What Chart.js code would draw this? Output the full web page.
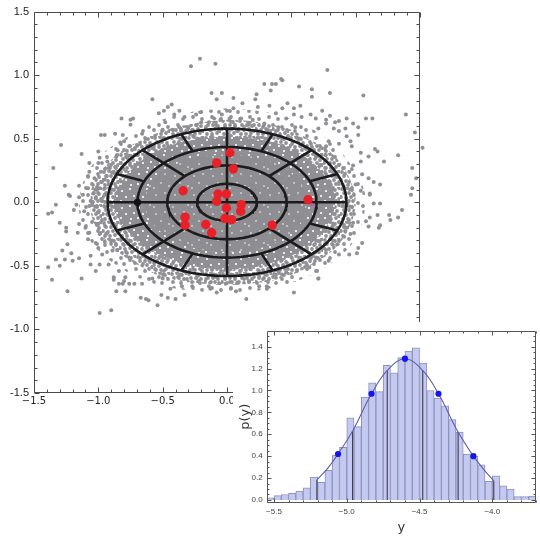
<!DOCTYPE html>
<html><head><meta charset="utf-8">
<script src="https://cdn.jsdelivr.net/npm/chart.js@4.4.1/dist/chart.umd.min.js"></script>
<style>
html,body{margin:0;padding:0;background:#fff;}
#wrap{position:relative;width:540px;height:538px;overflow:hidden;background:#fff;}
#main{position:absolute;left:0;top:0;}
#inset{position:absolute;left:233px;top:322px;background:#fff;}
</style></head><body>
<div id="wrap"><canvas id="main" width="540" height="538"></canvas><canvas id="inset" width="307" height="216"></canvas></div>
<script>
// ---------------- main scatter data ----------------
const mainXTicks = [-1.5,-1.0,-0.5,0.0,0.5,1.0,1.5];
const mainXLabels = ['\u22121.5','\u22121.0','\u22120.5','0.0','0.5','1.0','1.5'];
const mainYTicks = [-1.5,-1.0,-0.5,0.0,0.5,1.0,1.5];
const mainYLabels = ['-1.5','-1.0','-0.5','0.0','0.5','1.0','1.5'];

// dense parts of the grey cloud (outlines)
const outerHaloPts = [[0,0.74],[0.3,0.71],[0.58,0.62],[0.8,0.48],[0.96,0.3],[1.07,0.08],[1.06,-0.12],[0.99,-0.3],[0.85,-0.45],[0.62,-0.59],[0.32,-0.68],[0,-0.71],[-0.32,-0.69],[-0.6,-0.63],[-0.82,-0.52],[-1.0,-0.38],[-1.12,-0.2],[-1.15,0.0],[-1.1,0.2],[-0.98,0.37],[-0.8,0.5],[-0.56,0.63],[-0.28,0.71],[0,0.74]];
const haloPts = [[0,0.65],[0.18,0.64],[0.35,0.61],[0.5,0.57],[0.63,0.5],[0.74,0.44],[0.84,0.36],[0.92,0.25],[0.98,0.12],[1.0,0.0],[0.98,-0.12],[0.93,-0.24],[0.86,-0.34],[0.76,-0.43],[0.63,-0.51],[0.5,-0.57],[0.34,-0.62],[0.18,-0.64],[0,-0.65],[-0.18,-0.64],[-0.36,-0.62],[-0.52,-0.58],[-0.66,-0.51],[-0.78,-0.44],[-0.9,-0.35],[-0.99,-0.24],[-1.05,-0.12],[-1.06,0.0],[-1.05,0.12],[-1.0,0.22],[-0.93,0.3],[-0.85,0.38],[-0.74,0.45],[-0.62,0.51],[-0.5,0.56],[-0.36,0.6],[-0.2,0.63],[0,0.65]];
const midPts = [[0,0.52],[0.4,0.46],[0.7,0.28],[0.84,0],[0.7,-0.28],[0.4,-0.46],[0,-0.53],[-0.4,-0.46],[-0.72,-0.28],[-0.88,0],[-0.72,0.28],[-0.4,0.46],[0,0.52]];
const corePts = [[0,0.38],[0.32,0.33],[0.55,0.18],[0.62,0],[0.55,-0.19],[0.32,-0.34],[0,-0.39],[-0.32,-0.34],[-0.56,-0.19],[-0.64,0],[-0.56,0.19],[-0.32,0.33],[0,0.38]];

// sparse grey points
const grayPts = [
[-0.82,0.66],[-0.75,0.65],[-0.75,0.61],[-0.98,0.53],[-0.95,0.53],[-0.87,0.54],[-0.81,0.53],[-0.80,0.48],[-0.83,0.47],[-1.29,0.45],[-1.13,0.38],[-1.0,0.40],[-0.85,0.41],[-0.86,0.36],[-0.76,0.44],[-0.70,0.45],[-0.99,0.35],[-1.07,0.31],[-1.0,0.31],[-0.93,0.32],[-0.92,0.27],[-1.35,0.27],[-0.98,0.24],[-1.07,0.24],[-0.88,0.24],[-1.08,0.20],[-1.03,0.19],[-0.95,0.18],[-1.26,0.13],[-1.15,0.13],[-1.08,0.11],[-0.99,0.11],[-0.92,0.14],[-1.23,0.06],[-1.12,0.06],[-1.04,0.07],[-1.15,0.04],[-1.02,0.03],[-0.95,0.06],[-1.06,0.01],[-0.97,0.01],[-1.33,-0.02],[-1.17,-0.02],[-1.07,-0.03],[-1.39,-0.09],[-1.36,-0.08],[-1.19,-0.06],[-1.11,-0.07],[-1.0,-0.08],[-1.30,-0.16],[-1.25,-0.20],[-1.15,-0.17],[-1.10,-0.20],[-1.0,-0.17],[-1.25,-0.23],[-1.16,-0.24],[-1.07,-0.24],[-0.99,-0.25],[-0.94,-0.25],[-1.08,-0.29],[-1.02,-0.32],[-0.95,-0.31],[-1.24,-0.33],[-1.0,-0.36],[-1.28,-0.38],[-1.21,-0.40],[-1.15,-0.44],[-1.06,-0.42],[-0.97,-0.41],[-0.89,-0.38],[-1.33,-0.45],[-1.26,-0.45],[-1.20,-0.46],[-1.06,-0.49],[-0.99,-0.49],[-1.39,-0.51],[-1.30,-0.50],[-0.92,-0.49],[-0.84,-0.54],[-1.02,-0.54],[-0.88,-0.59],[-1.36,-0.61],[-1.13,-0.60],[-0.80,-0.62],[-0.84,-0.64],[-0.76,-0.64],[-1.24,-0.70],[-0.86,-0.70],[-0.79,-0.70],[-0.99,-0.87],[-1.22,0.05],
[-0.28,1.07],[-0.21,1.13],[-0.09,1.09],[-0.58,0.81],[-0.73,0.66],[-0.66,0.54],[-0.53,0.70],[-0.49,0.72],[-0.46,0.75],[-0.43,0.77],[-0.37,0.72],[-0.41,0.69],[-0.48,0.63],[-0.33,0.67],[-0.24,0.69],[-0.20,0.71],[-0.12,0.86],[-0.04,0.86],[-0.08,0.81],[-0.20,0.63],[-0.10,0.66],[-0.04,0.69],[0.0,0.72],[0.05,0.82],[0.05,0.74],[0.12,0.78],[0.22,0.81],[0.23,0.85],[0.24,0.75],[0.29,0.93],[0.35,0.93],[0.38,0.93],[0.34,0.88],[0.42,0.97],[0.43,0.96],[0.33,0.76],[0.43,0.74],[0.38,0.70],[0.47,0.78],[0.56,0.91],[0.66,0.89],[0.66,0.83],[0.57,0.76],[0.52,0.74],[0.74,0.72],[0.78,1.04],[0.52,0.69],[0.58,0.67],[0.65,0.69],[0.69,0.66],[0.46,0.66],[0.29,0.62],[0.20,0.65],[0.11,0.66],[0.02,0.66],[-0.05,0.65],[-0.14,0.63],[-0.30,0.59],[-0.37,0.59],[-0.42,0.57],[-0.50,0.57],[0.17,0.61],[0.40,0.59],[0.53,0.59],[0.77,0.62],[0.71,0.58],
[0.80,0.86],[1.06,0.84],[0.80,0.68],[0.77,0.65],[0.84,0.63],[0.87,0.64],[0.93,0.66],[0.98,0.62],[1.02,0.59],[1.02,0.53],[1.08,0.66],[1.13,0.66],[1.39,0.69],[1.46,0.55],[1.52,0.43],[0.83,0.58],[0.87,0.56],[0.92,0.58],[0.93,0.52],[0.96,0.48],[0.87,0.46],[0.79,0.48],[0.77,0.44],[0.97,0.44],[1.04,0.39],[1.15,0.42],[1.17,0.40],[1.10,0.36],[1.22,0.32],[1.33,0.37],[1.04,0.32],[0.98,0.29],[0.95,0.24],[1.05,0.22],[1.10,0.19],[1.14,0.16],[1.19,0.14],[1.0,0.14],[1.04,0.09],[1.11,0.07],[1.19,-0.01],[1.14,-0.01],[1.11,0.06],[1.44,0.27],[1.44,0.11],[1.47,0.19],[1.43,0.06],[1.36,-0.06],[1.33,-0.12],[1.26,-0.10],[1.27,-0.14],[1.17,-0.10],[1.11,-0.12],[1.08,-0.15],[1.10,-0.19],[1.18,-0.20],[1.19,-0.18],[0.98,-0.16],[0.93,-0.20],[0.96,-0.25],[0.91,-0.27],[1.05,-0.32],[1.02,-0.36],[1.01,-0.40],[0.95,-0.41],[0.87,-0.41],[0.79,-0.46],[0.86,-0.33],[0.71,-0.60],
[-0.88,-0.61],[-0.81,-0.64],[-0.79,-0.59],[-0.72,-0.64],[-0.67,-0.75],[-0.63,-0.76],[-0.61,-0.77],[-0.66,-0.64],[-0.58,-0.60],[-0.50,-0.60],[-0.51,-0.73],[-0.46,-0.75],[-0.40,-0.76],[-0.44,-0.68],[-0.35,-0.66],[-0.33,-0.73],[-0.54,-0.81],[-0.90,-0.85],[-0.27,-0.66],[-0.22,-0.62],[-0.14,-0.66],[-0.13,-0.68],[-0.08,-0.71],[-0.01,-0.64],[0.03,-0.68],[0.07,-0.70],[0.15,-0.76],[0.08,-0.63],[0.17,-0.62],[0.25,-0.66],[0.31,-0.66],[0.31,-0.68],[0.52,-0.71],[0.71,-0.60],[0.70,-0.54],[0.64,-0.51],[0.46,-0.55],[0.38,-0.57],[0.25,-0.58]
];

// target rings (semi-axes) and spokes
const ringA = [0.232,0.464,0.696,0.928];
const ringB = [0.145,0.29,0.435,0.58];
const spokeAngles = [0,90,180,270,45,135,225,315,22.5,67.5,112.5,157.5,202.5,247.5,292.5,337.5];
const spokeInner  = [-1,-1,-1,-1,1,1,1,1,2,2,2,2,2,2,2,2]; // -1 = centre
const blackDot = [[-0.696,0.0]];
const magentaDot = [[0.661,-0.018]];

const redX = [0.023,-0.08,0.049,-0.341,-0.07,-0.005,-0.08,-0.005,0.111,0.106,-0.016,0.036,-0.326,-0.326,-0.165,-0.119,0.351,0.63];
const redY = [0.39,0.31,0.263,0.091,0.065,0.065,0.008,-0.045,-0.018,-0.07,-0.128,-0.136,-0.117,-0.18,-0.175,-0.24,-0.18,0.02];

// ---------------- inset histogram data ----------------
const binCenters = [-5.525,-5.475,-5.425,-5.375,-5.325,-5.275,-5.225,-5.175,-5.125,-5.075,-5.025,-4.975,-4.925,-4.875,-4.825,-4.775,-4.725,-4.675,-4.625,-4.575,-4.525,-4.475,-4.425,-4.375,-4.325,-4.275,-4.225,-4.175,-4.125,-4.075,-4.025,-3.975,-3.925,-3.875,-3.825,-3.775,-3.725];
const histVals = [0.02,0.04,0.05,0.06,0.08,0.11,0.21,0.16,0.27,0.41,0.48,0.75,0.67,0.94,1.07,0.99,1.23,1.16,1.30,1.36,1.39,1.25,1.00,0.93,0.86,0.735,0.62,0.42,0.40,0.32,0.17,0.22,0.13,0.10,0.03,0.03,0.035];
const curveX = [-5.21,-5.13,-5.06,-4.96,-4.83,-4.72,-4.60,-4.48,-4.37,-4.235,-4.13,-4.06,-3.99];
const curveY = [0.175,0.29,0.42,0.63,0.97,1.185,1.29,1.185,0.97,0.62,0.40,0.28,0.175];
const dotX = [-5.06,-4.83,-4.60,-4.37,-4.13];
const dotY = [0.42,0.97,1.29,0.97,0.40];
const vlineX = [-5.205,-4.96,-4.722,-4.478,-4.235,-3.99];
const vlineTop = [0.176,0.63,1.185,1.185,0.62,0.176];
const insetXTicks = [-5.5,-5.0,-4.5,-4.0];
const insetXLabels = ['\u22125.5','\u22125.0','\u22124.5','\u22124.0'];
const insetYTicks = [0,0.2,0.4,0.6,0.8,1.0,1.2,1.4];
const insetYLabels = ['0.0','0.2','0.4','0.6','0.8','1.0','1.2','1.4'];

// ---------------- speckle textures for the dense cloud (styling only) ----------------
function makePattern(size, base, dotColor, dots, r) {
  const c = document.createElement('canvas'); c.width = size; c.height = size;
  const g = c.getContext('2d');
  if (base) { g.fillStyle = base; g.fillRect(0, 0, size, size); }
  g.fillStyle = dotColor;
  dots.forEach(d => { g.beginPath(); g.arc(d[0], d[1], r, 0, Math.PI * 2); g.fill(); });
  return document.getElementById('main').getContext('2d').createPattern(c, 'repeat');
}
const sparseTex = makePattern(19, null, '#8f8f94', [[3,3],[12,5],[7,11],[16,13],[2,16],[10,17]], 1.9);
const haloTex = makePattern(17, null, '#8f8f94',
  [[2,2],[7,1],[12,3],[16,1],[4,6],[9,6],[14,7],[1,10],[6,11],[11,10],[16,12],[3,15],[8,15],[13,14],[10,2.5]], 1.9);
const midTex = makePattern(17, '#8f8f94', '#ffffff',
  [[3,4],[11,2],[15,9],[7,10],[2,14],[12,15]], 1.1);
const coreTex = makePattern(19, '#8d8d92', '#ffffff',
  [[4,5],[13,3],[9,12],[17,15],[2,17]], 0.8);

// ---------------- frame + inward ticks plugin ----------------
const frameTicks = {
  id: 'frameTicks',
  afterDatasetsDraw(chart, args, o) {
    const {ctx, chartArea: a, scales: {x, y}} = chart;
    ctx.save();
    ctx.strokeStyle = o.color; ctx.lineWidth = 1;
    const L = Math.round(a.left) + 0.5, R = Math.round(a.right) - 0.5;
    const T = Math.round(a.top) + 0.5, B = Math.round(a.bottom) - 0.5;
    ctx.beginPath();
    ctx.rect(L, T, R - L, B - T);
    const isMaj = (v, m) => Math.abs(v / m - Math.round(v / m)) < 1e-6;
    const nx = Math.round((o.xTo - o.xFrom) / o.xMinor);
    for (let i = 0; i <= nx; i++) {
      const v = o.xFrom + i * o.xMinor;
      const p = Math.round(x.getPixelForValue(v)) + 0.5;
      const len = isMaj(v, o.xMajor) ? o.major : o.minor;
      ctx.moveTo(p, B); ctx.lineTo(p, B - len);
      ctx.moveTo(p, T); ctx.lineTo(p, T + len);
    }
    const ny = Math.round((o.yTo - o.yFrom) / o.yMinor);
    for (let i = 0; i <= ny; i++) {
      const v = o.yFrom + i * o.yMinor;
      const p = Math.round(y.getPixelForValue(v)) + 0.5;
      const len = isMaj(v, o.yMajor) ? o.major : o.minor;
      ctx.moveTo(L, p); ctx.lineTo(L + len, p);
      ctx.moveTo(R, p); ctx.lineTo(R - len, p);
    }
    ctx.stroke();
    ctx.restore();
  }
};

// ---------------- main chart ----------------
const ringDatasets = ringA.map((a, i) => {
  const pts = [];
  for (let d = 0; d <= 360; d += 3) {
    const t = d * Math.PI / 180;
    pts.push({x: a * Math.cos(t), y: ringB[i] * Math.sin(t)});
  }
  return {type: 'line', data: pts, borderColor: '#1c1c1c', borderWidth: 2.6, pointRadius: 0, fill: false, tension: 0, order: 4};
});
const spokePts = [];
spokeAngles.forEach((deg, i) => {
  const t = deg * Math.PI / 180;
  const k = spokeInner[i];
  const x0 = k < 0 ? 0 : ringA[k] * Math.cos(t), y0 = k < 0 ? 0 : ringB[k] * Math.sin(t);
  spokePts.push({x: x0, y: y0});
  spokePts.push({x: ringA[3] * Math.cos(t), y: ringB[3] * Math.sin(t)});
  spokePts.push({x: ringA[3] * Math.cos(t), y: null});
});

const toXY = arr => arr.map(p => ({x: p[0], y: p[1]}));
const areaDs = (pts, bg, ord) => ({type: 'line', data: toXY(pts), fill: 'shape', backgroundColor: bg, borderColor: 'rgba(0,0,0,0)', borderWidth: 0, pointRadius: 0, tension: 0.35, order: ord});

new Chart(document.getElementById('main'), {
  type: 'scatter',
  data: {datasets: [
    areaDs(outerHaloPts, sparseTex, 10),
    areaDs(haloPts, haloTex, 9),
    areaDs(midPts, midTex, 8),
    areaDs(corePts, coreTex, 7),
    {data: toXY(grayPts), backgroundColor: '#8f8f94', borderWidth: 0, pointRadius: 2.0, clip: false, order: 6},
    ...ringDatasets,
    {type: 'line', data: spokePts, borderColor: '#1c1c1c', borderWidth: 2.6, pointRadius: 0, fill: false, spanGaps: false, order: 3},
    {data: toXY(blackDot), backgroundColor: '#111', borderWidth: 0, pointRadius: 3.6, order: 2},
    {data: toXY(magentaDot), backgroundColor: '#c050c0', borderWidth: 0, pointRadius: 1.6, order: 1},
    {data: redX.map((v, i) => ({x: v, y: redY[i]})), backgroundColor: '#ea2028', borderWidth: 0, pointRadius: 4.7, order: 0}
  ]},
  options: {
    responsive: false, animation: false, events: [],
    layout: {padding: {left: 0, top: 9, right: 120, bottom: 125}},
    plugins: {legend: {display: false}, tooltip: {enabled: false},
      frameTicks: {color: '#4a4a4a', xFrom: -1.5, xTo: 1.5, xMinor: 0.1, xMajor: 0.5, yFrom: -1.5, yTo: 1.5, yMinor: 0.1, yMajor: 0.5, major: 5, minor: 3}},
    scales: {
      x: {type: 'linear', min: -1.5, max: 1.5, grid: {display: false, drawTicks: false}, border: {display: false},
        afterBuildTicks: s => { s.ticks = mainXTicks.map(v => ({value: v})); },
        afterFit: s => { s.height = 20; },
        ticks: {autoSkip: false, maxRotation: 0, padding: 2, color: '#222', font: {family: 'DejaVu Sans', size: 10},
          callback: (v, i) => mainXLabels[i]}},
      y: {type: 'linear', min: -1.5, max: 1.5, grid: {display: false, drawTicks: false}, border: {display: false},
        afterBuildTicks: s => { s.ticks = mainYTicks.map(v => ({value: v})); },
        afterFit: s => { s.width = 34; },
        ticks: {autoSkip: false, padding: 5, color: '#222', font: {family: 'Liberation Sans', size: 11},
          callback: (v, i) => mainYLabels[i]}}
    }
  },
  plugins: [frameTicks]
});

// ---------------- inset chart ----------------
const vlinePts = [];
vlineX.forEach((v, i) => { vlinePts.push({x: v, y: 0}); vlinePts.push({x: v, y: vlineTop[i]}); vlinePts.push({x: v, y: null}); });

new Chart(document.getElementById('inset'), {
  type: 'bar',
  data: {datasets: [
    {type: 'bar', data: binCenters.map((c, i) => ({x: c, y: histVals[i]})), backgroundColor: '#c4c9f1', borderColor: '#8e93b9', borderWidth: 1, barPercentage: 1, categoryPercentage: 1, grouped: false, order: 4},
    {type: 'line', data: vlinePts, borderColor: '#3a3a48', borderWidth: 1.1, pointRadius: 0, fill: false, spanGaps: false, order: 3},
    {type: 'line', data: curveX.map((v, i) => ({x: v, y: curveY[i]})), borderColor: '#5d5fae', borderWidth: 1.1, pointRadius: 0, fill: false, tension: 0.4, order: 2},
    {type: 'scatter', data: dotX.map((v, i) => ({x: v, y: dotY[i]})), backgroundColor: '#1414f0', borderWidth: 0, pointRadius: 3.1, order: 1}
  ]},
  options: {
    responsive: false, animation: false, events: [],
    layout: {padding: {left: 0, top: 8, right: 2, bottom: 0}},
    plugins: {legend: {display: false}, tooltip: {enabled: false},
      frameTicks: {color: '#555', xFrom: -5.5, xTo: -3.7, xMinor: 0.1, xMajor: 0.5, yFrom: 0, yTo: 1.5, yMinor: 0.05, yMajor: 0.2, major: 4, minor: 2}},
    scales: {
      x: {type: 'linear', offset: false, min: -5.55, max: -3.70, grid: {display: false, offset: false, drawTicks: false}, border: {display: false},
        afterBuildTicks: s => { s.ticks = insetXTicks.map(v => ({value: v})); },
        afterFit: s => { s.height = 35.3; },
        title: {display: true, text: 'y', color: '#333', font: {family: 'DejaVu Sans', size: 13}, padding: {top: 0, bottom: 3}},
        ticks: {autoSkip: false, maxRotation: 0, padding: 4, color: '#444', font: {family: 'Liberation Sans', size: 8},
          callback: (v, i) => insetXLabels[i]}},
      y: {type: 'linear', min: -0.025, max: 1.545, grid: {display: false, drawTicks: false}, border: {display: false},
        afterBuildTicks: s => { s.ticks = insetYTicks.map(v => ({value: v})); },
        afterFit: s => { s.width = 33.7; },
        title: {display: true, text: 'p(y)', color: '#333', font: {family: 'DejaVu Sans', size: 13}, padding: {top: 5, bottom: 0}},
        ticks: {autoSkip: false, padding: 4, color: '#444', font: {family: 'Liberation Sans', size: 8},
          callback: (v, i) => insetYLabels[i]}}
    }
  },
  plugins: [frameTicks]
});
</script></body></html>
